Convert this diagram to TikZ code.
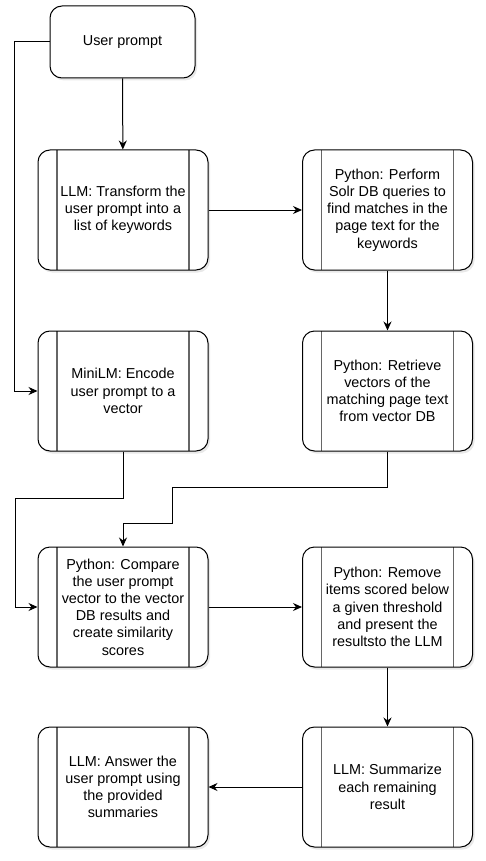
\documentclass[tikz,border=0pt]{standalone}
\usepackage{fontspec}
\setmainfont{Liberation Sans}
\usepackage{tikz}
\usetikzlibrary{arrows.meta,shadows}

\tikzset{
  box/.style={draw, fill=white, line width=1pt, rounded corners=12pt, align=center,
    font=\fontsize{14.4}{17.2}\selectfont,
    drop shadow={shadow xshift=2pt, shadow yshift=-2.5pt, opacity=0.18}},
  proc/.style={box, minimum width=170pt, minimum height=120pt, inner sep=0pt,
    path picture={
      \draw[black!60, line width=1.3pt] ([xshift=19pt]path picture bounding box.north west) -- ([xshift=19pt]path picture bounding box.south west);
      \draw[black!60, line width=1.3pt] ([xshift=-19pt]path picture bounding box.north east) -- ([xshift=-19pt]path picture bounding box.south east);
    }},
  flow/.style={line width=1pt, -{Stealth[length=9pt,width=8pt]}},
}

\begin{document}
\begin{tikzpicture}[x=1pt,y=-1pt]
\useasboundingbox (0,0) rectangle (485,861);

% boxes
\node[box, minimum width=145pt, minimum height=72pt] (prompt) at (122.5,42) {User prompt};
\node[proc] (keywords) at (123,210) {LLM: Transform the\\user prompt into a\\list of keywords};
\node[proc] (solr) at (387.5,210) {Python: Perform\\Solr DB queries to\\find matches in the\\page text for the\\keywords};
\node[proc] (encode) at (123,391) {MiniLM: Encode\\user prompt to a\\vector};
\node[proc] (retrieve) at (387.5,391) {Python: Retrieve\\vectors of the\\matching page text\\from vector DB};
\node[proc] (compare) at (123,607) {Python: Compare\\the user prompt\\vector to the vector\\DB results and\\create similarity\\scores};
\node[proc] (remove) at (387.5,607) {Python: Remove\\items scored below\\a given threshold\\and present the\\resultsto the LLM};
\node[proc] (summarize) at (387.5,787) {LLM: Summarize\\each remaining\\result};
\node[proc] (answer) at (123,787) {LLM: Answer the\\user prompt using\\the provided\\summaries};

% bends
\coordinate (bendA) at (172,487);
\coordinate (bendB) at (172,523);
\coordinate (bendC) at (15,498);

% arrows
\draw[flow] (prompt) -- (keywords);
\draw[flow] (prompt.west) -- ++(-35,0) |- (encode.west);
\draw[flow] (keywords) -- (solr);
\draw[flow] (solr) -- (retrieve);
\draw[flow] (retrieve.south) |- (bendA) -- (bendB) -| (compare.north);
\draw[flow] (encode.south) |- (bendC) |- (compare.west);
\draw[flow] (compare) -- (remove);
\draw[flow] (remove) -- (summarize);
\draw[flow] (summarize) -- (answer);
\end{tikzpicture}
\end{document}
